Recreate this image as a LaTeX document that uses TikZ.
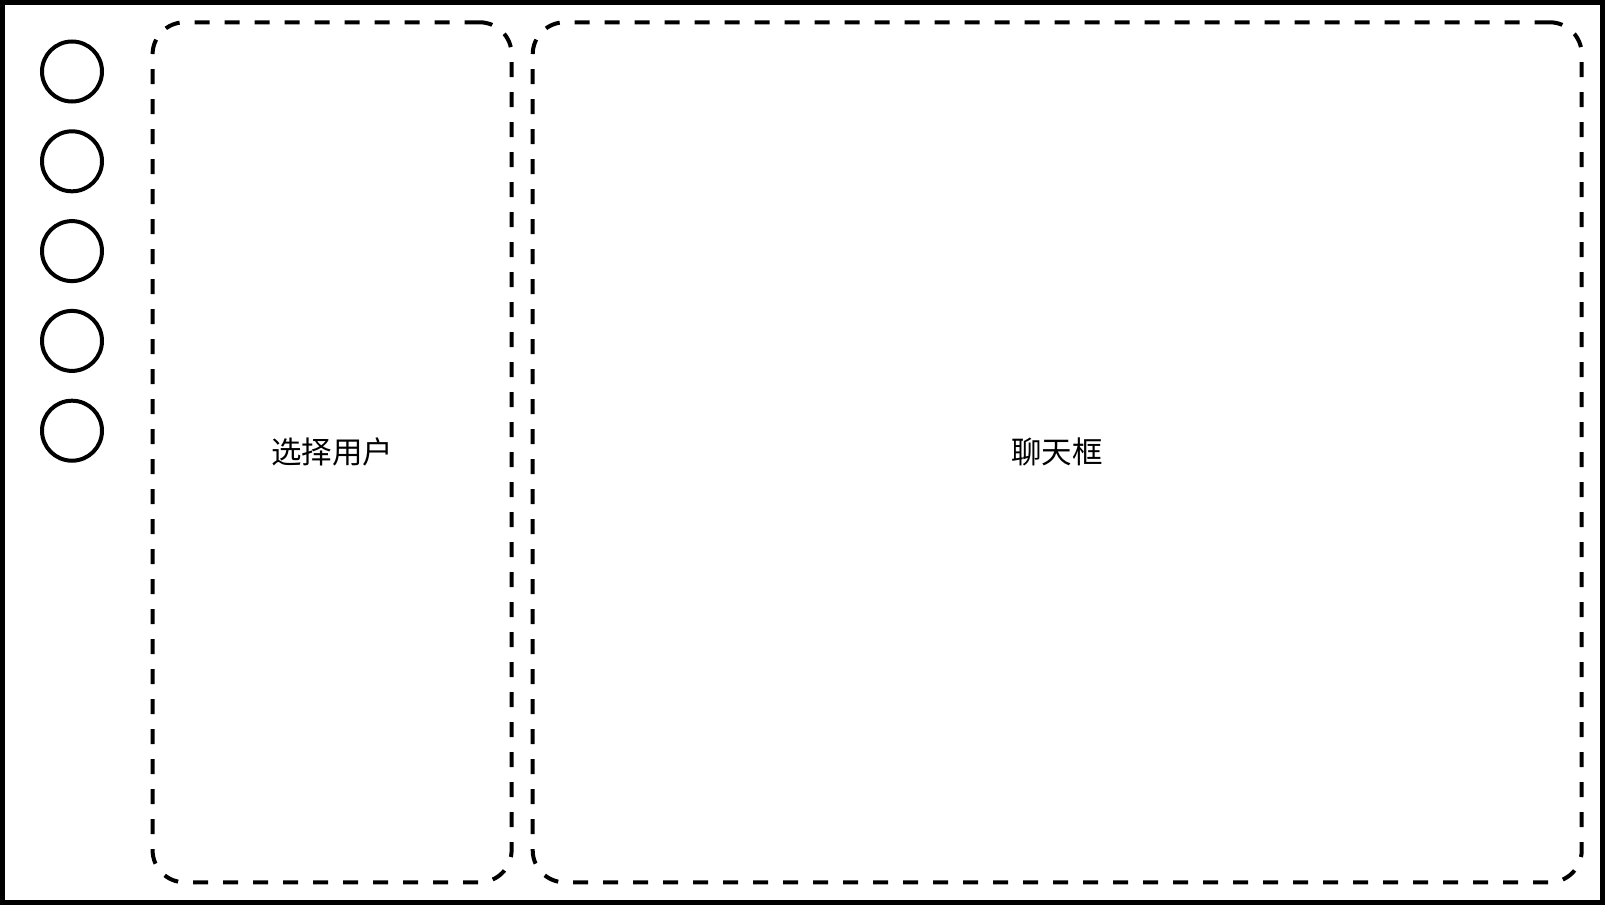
\documentclass[tikz,border=0pt]{standalone}
\usepackage{fontspec}
\newfontfamily\cjk{Noto Sans CJK SC}
\begin{document}
\begin{tikzpicture}[x=1pt,y=-1pt]
  % 参数
  \def\cx{72}     % 圆心横坐标
  \def\dy{89.8}   % 圆间距
  \tikzset{
    avatar/.style={draw, circle, line width=4pt, minimum size=60pt, inner sep=0pt},
    panel/.style={draw, dash pattern=on 15pt off 15pt, line width=4pt,
      rounded corners=32pt, minimum height=860pt, inner sep=0pt,
      font=\cjk\fontsize{30.5}{36}\selectfont},
  }
  \useasboundingbox (0,0) rectangle (1605,905);

  % 外框
  \draw[line width=5pt] (2.5,2.5) rectangle (1602.5,902.5);

  % 头像
  \foreach \i in {0,...,4}
    \node[avatar] (av\i) at (\cx, 71.5+\dy*\i) {};

  % 选择用户
  \node[panel, minimum width=359pt] (users) at (332.1,452.3) {选择用户};

  % 聊天框
  \node[panel, minimum width=1049pt] (chat) at (1057.2,452.3) {聊天框};
\end{tikzpicture}
\end{document}
